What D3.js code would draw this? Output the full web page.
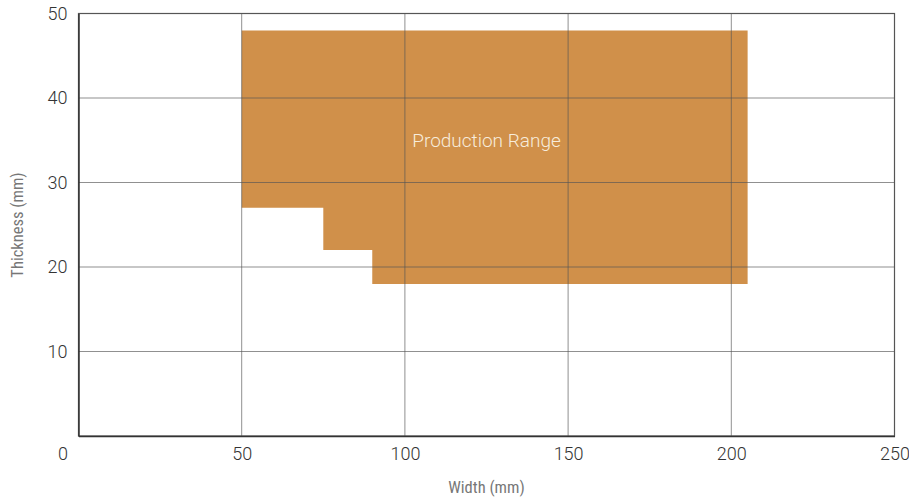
<!DOCTYPE html>
<html>
<head>
<meta charset="utf-8">
<script src="https://cdn.jsdelivr.net/npm/d3@7"></script>
<style>
  body { margin: 0; background: #fff; }
  svg text { font-family: Roboto, "Liberation Sans", sans-serif; }
</style>
</head>
<body>
<svg id="chart" width="909" height="500"></svg>
<script>
// production range outline, [width, thickness]
var rangeWidth = [50, 205, 205, 90, 90, 75, 75, 50];
var rangeThick = [48, 48, 18, 18, 22, 22, 27, 27];
var rangeLabel = "Production Range";
var labelPos = [125, 35];
var xTicks = [0, 50, 100, 150, 200, 250];
var yTicks = [10, 20, 30, 40, 50];

var margin = {left: 78.5, right: 14.5, top: 13.5, bottom: 64};
var width = 909, height = 500;

var svg = d3.select("#chart");

var x = d3.scaleLinear().domain([0, 250]).range([margin.left, width - margin.right]);
var y = d3.scaleLinear().domain([0, 50]).range([height - margin.bottom, margin.top]);

var pts = rangeWidth.map(function(w, i) { return [x(w), y(rangeThick[i])]; });

svg.append("path")
  .attr("d", d3.line()(pts) + "Z")
  .style("fill", "#d0904a");

svg.append("text")
  .attr("x", x(labelPos[0]))
  .attr("y", y(labelPos[1]))
  .attr("dy", "0.35em")
  .attr("text-anchor", "middle")
  .style("font-size", "19px")
  .style("font-weight", 300)
  .style("fill", "#f7ecdc")
  .text(rangeLabel);

// grid lines
svg.append("g").selectAll("line")
  .data(xTicks.filter(function(d) { return d > 0 && d < 250; }))
  .enter().append("line")
  .attr("x1", function(d) { return x(d); })
  .attr("x2", function(d) { return x(d); })
  .attr("y1", y(50)).attr("y2", y(0))
  .style("stroke", "#555").style("stroke-opacity", 0.65).style("stroke-width", 1);

svg.append("g").selectAll("line")
  .data(yTicks.filter(function(d) { return d < 50; }))
  .enter().append("line")
  .attr("x1", x(0)).attr("x2", x(250))
  .attr("y1", function(d) { return y(d); })
  .attr("y2", function(d) { return y(d); })
  .style("stroke", "#555").style("stroke-opacity", 0.65).style("stroke-width", 1);

// frame
svg.append("rect")
  .attr("x", x(0)).attr("y", y(50))
  .attr("width", x(250) - x(0)).attr("height", y(0) - y(50))
  .style("fill", "none").style("stroke", "#555").style("stroke-width", 1.2);

var xAxis = d3.axisBottom(x).tickValues(xTicks).tickSize(0).tickPadding(11);
var gx = svg.append("g").attr("transform", "translate(0," + y(0) + ")").call(xAxis);
gx.select(".domain").style("stroke", "#333").style("stroke-width", 1.5);
gx.selectAll("text")
  .style("font-size", "18px").style("font-weight", 300).style("fill", "#333")
  .attr("dx", function(d) { return d === 0 ? "-16px" : 0; });

var yAxis = d3.axisLeft(y).tickValues(yTicks).tickSize(0).tickPadding(11);
var gy = svg.append("g").attr("transform", "translate(" + x(0) + ",0)").call(yAxis);
gy.select(".domain").style("stroke", "#333").style("stroke-width", 1.5);
gy.selectAll("text")
  .style("font-size", "18px").style("font-weight", 300).style("fill", "#333");

svg.append("text")
  .attr("x", (x(0) + x(250)) / 2)
  .attr("y", 493)
  .attr("text-anchor", "middle")
  .style("font-family", "'Liberation Sans Narrow', 'Roboto Condensed', sans-serif")
  .style("font-size", "16.5px").style("fill", "#777")
  .text("Width (mm)");

svg.append("text")
  .attr("transform", "translate(23," + 225 + ") rotate(-90)")
  .attr("text-anchor", "middle")
  .style("font-family", "'Liberation Sans Narrow', 'Roboto Condensed', sans-serif")
  .style("font-size", "16.5px").style("fill", "#777")
  .text("Thickness (mm)");
</script>
</body>
</html>
